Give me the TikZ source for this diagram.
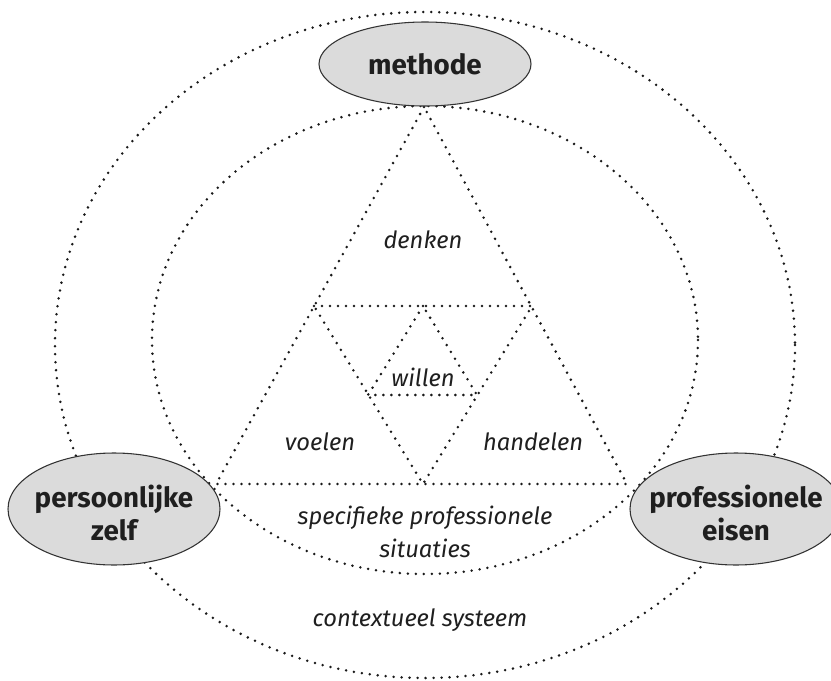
\documentclass[tikz,border=0pt]{standalone}
\usepackage{fontspec}
\setmainfont{Fira Sans}
\usetikzlibrary{shapes.geometric}

\begin{document}
\begin{tikzpicture}[x=0.75pt,y=-0.75pt]
    \tikzset{dotline/.style = {draw=black!90, line width=2.1pt, line cap=round, dash pattern=on 0pt off 6pt}}
    \tikzset{blob/.style = {shape=ellipse, draw=black!80, line width=0.8pt, fill=gray!28, minimum width=159pt, inner sep=0pt}}
    \tikzset{bold/.style = {font=\fontsize{20.8}{25}\selectfont\bfseries, text=black!88, align=center}}
    \tikzset{ital/.style = {font=\fontsize{17.8}{25}\selectfont\itshape, text=black!88, align=center}}

    \useasboundingbox (0,0) rectangle (831,681);
    \clip (0,0) rectangle (831,681);

    % circles
    \draw[dotline] (425,345) ellipse (370 and 333);
    \draw[dotline] (425,340) ellipse (273 and 234);

    % corners
    \coordinate (a) at (424,107);
    \coordinate (b) at (216,484);
    \coordinate (c) at (627,484);
    \coordinate (p) at (314,306);
    \coordinate (q) at (532,306);
    \coordinate (r) at (423,484);
    \coordinate (s) at (423,306);
    \coordinate (t) at (368,395);
    \coordinate (u) at (477,395);

    % triangles
    \draw[dotline] (a) -- (b) -- (c) -- cycle;
    \draw[dotline] (p) -- (q) -- (r) -- cycle;
    \draw[dotline] (s) -- (t) -- (u) -- cycle;

    % labels
    \node[ital] (denken) at (423,240) {denken};
    \node[ital] (willen) at (423,377) {willen};
    \node[ital] (voelen) at (320,442) {voelen};
    \node[ital] (handelen) at (533,442) {handelen};
    \node[ital] (situaties) at (425,532) {specifieke professionele\\situaties};
    \node[ital] (context) at (420,620) {contextueel systeem};

    % ellipses
    \node[blob, minimum height=63pt] (methode) at (425,64) {};
    \node[blob, minimum height=84pt] (zelf) at (114,509) {};
    \node[blob, minimum height=84pt] (eisen) at (736,509) {};
    \node[bold] (methodetext) at (methode) {methode};
    \node[bold] (zelftext) at ([yshift=-3pt]zelf.center) {persoonlijke\\zelf};
    \node[bold] (eisentext) at ([yshift=-3pt]eisen.center) {professionele\\eisen};
\end{tikzpicture}
\end{document}
